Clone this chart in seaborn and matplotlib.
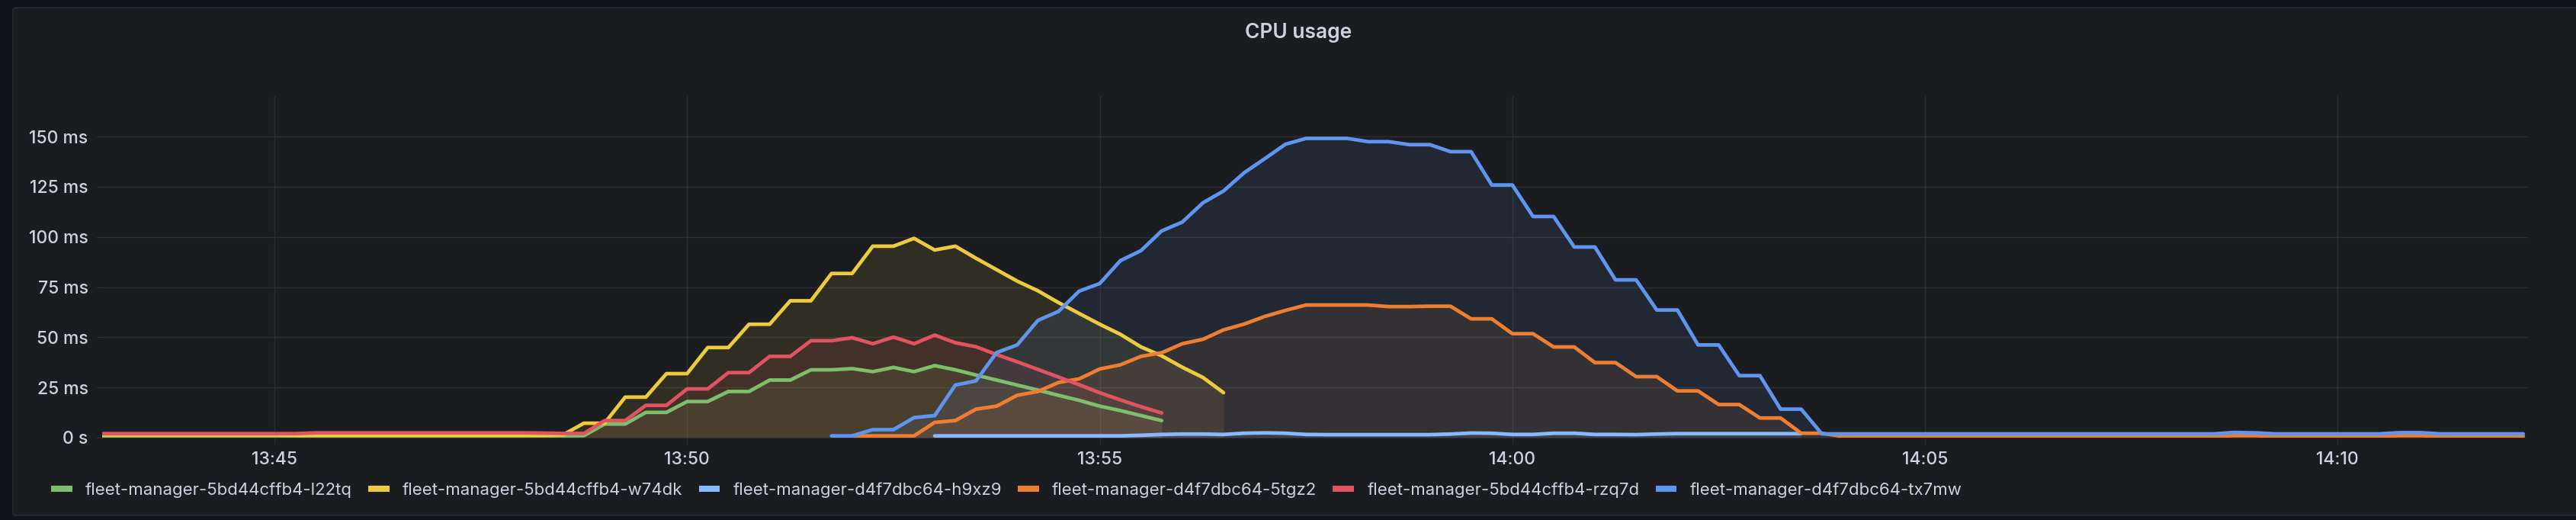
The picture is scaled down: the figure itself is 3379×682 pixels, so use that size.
import pandas as pd
import matplotlib.pyplot as plt
import matplotlib.dates as mdates
from matplotlib.lines import Line2D
from matplotlib.patches import FancyBboxPatch
from matplotlib.transforms import IdentityTransform
import seaborn as sns

# pods, in legend / draw order
pods = ['fleet-manager-5bd44cffb4-l22tq', 'fleet-manager-5bd44cffb4-w74dk',
        'fleet-manager-d4f7dbc64-h9xz9', 'fleet-manager-d4f7dbc64-5tgz2',
        'fleet-manager-5bd44cffb4-rzq7d', 'fleet-manager-d4f7dbc64-tx7mw']
colors = ['#7EBF6B', '#EDCB3F', '#8AB8FF', '#EE7F32', '#E25361', '#5F95EE']

# first sample time of each pod, samples every 15s
day = '2023-06-01'
first_sample = ['13:42:45', '13:42:45', '13:53:00', '13:52:00', '13:42:45', '13:51:45']

# CPU usage in ms
l22tq = [0.9, 0.9, 0.9, 0.9, 0.9, 0.9, 0.9, 0.9, 0.9, 0.9,
         0.9, 0.9, 0.9, 0.9, 0.9, 0.9, 0.9, 0.9, 0.9, 0.9,
         0.9, 0.9, 0.9, 0.9, 1.0, 6.8, 6.8, 12.6, 12.6, 18.0,
         18.0, 23.0, 23.0, 28.7, 28.7, 33.8, 33.8, 34.4, 32.9, 35.0,
         32.9, 35.9, 33.8, 31.2, 28.7, 26.2, 23.7, 21.1, 18.6, 15.7,
         13.5, 11.0, 8.5]
w74dk = [1.4, 1.4, 1.4, 1.4, 1.4, 1.4, 1.4, 1.4, 1.4, 1.4,
         1.2, 1.2, 1.2, 1.2, 1.2, 1.2, 1.2, 1.2, 1.2, 1.2,
         1.2, 1.2, 1.2, 1.5, 7.2, 7.2, 20.2, 20.2, 31.9, 31.9,
         44.9, 44.9, 56.5, 56.5, 68.2, 68.2, 81.8, 81.8, 95.4, 95.4,
         99.3, 93.5, 95.4, 89.4, 83.7, 78.0, 73.2, 67.3, 61.9, 56.5,
         51.5, 45.2, 40.8, 35.1, 30.0, 22.4]
h9xz9 = [0.9, 0.9, 0.9, 0.9, 0.9, 0.9, 0.9, 0.9, 0.9, 0.9,
         1.2, 1.6, 1.8, 1.8, 1.6, 2.2, 2.4, 2.2, 1.6, 1.5,
         1.5, 1.5, 1.5, 1.5, 1.5, 1.8, 2.3, 2.2, 1.6, 1.6,
         2.2, 2.2, 1.6, 1.6, 1.5, 1.8, 2.0, 2.0, 2.0, 2.0,
         2.0, 2.0, 2.0]
tgz2 = [0.9, 0.9, 0.9, 0.9, 7.6, 8.5, 14.2, 15.7, 21.1, 23.0,
        27.5, 29.3, 34.2, 36.3, 40.5, 42.3, 46.8, 49.0, 53.7, 56.6,
        60.4, 63.4, 66.1, 66.1, 66.1, 66.1, 65.3, 65.3, 65.5, 65.5,
        59.2, 59.2, 51.8, 51.8, 45.2, 45.2, 37.4, 37.4, 30.4, 30.4,
        23.3, 23.3, 16.5, 16.5, 9.8, 9.8, 2.2, 2.2, 0.6, 0.6,
        0.6, 0.6, 0.6, 0.6, 0.6, 0.6, 0.6, 0.6, 0.6, 0.6,
        0.6, 0.6, 0.6, 0.6, 0.6, 0.6, 0.6, 1.0, 1.0, 0.6,
        0.6, 0.6, 0.6, 0.6, 0.6, 1.0, 1.0, 0.6, 0.6, 0.6,
        0.6, 0.6]
rzq7d = [2.0, 2.0, 2.0, 2.0, 2.0, 2.0, 2.0, 2.0, 2.0, 2.0,
         2.0, 2.4, 2.4, 2.4, 2.4, 2.4, 2.4, 2.4, 2.4, 2.4,
         2.4, 2.4, 2.3, 2.1, 2.1, 8.5, 8.5, 16.1, 16.1, 24.3,
         24.3, 32.4, 32.4, 40.5, 40.5, 48.3, 48.3, 49.8, 46.8, 50.1,
         46.8, 51.1, 47.3, 45.3, 41.4, 37.8, 34.0, 30.2, 26.4, 22.4,
         18.8, 15.4, 12.3]
tx7mw = [0.9, 0.9, 4.0, 4.0, 10.0, 11.0, 26.2, 28.3, 42.4, 46.2,
         58.4, 62.9, 73.0, 76.8, 88.2, 93.2, 103.0, 107.4, 117.0, 122.9,
         132.0, 139.0, 146.2, 149.1, 149.1, 149.1, 147.5, 147.5, 146.0, 146.0,
         142.5, 142.5, 125.9, 125.9, 110.2, 110.2, 95.0, 95.0, 78.6, 78.6,
         63.6, 63.6, 46.2, 46.2, 30.9, 30.9, 14.2, 14.2, 1.9, 1.9,
         1.9, 1.9, 1.9, 1.9, 1.9, 1.9, 1.9, 1.9, 1.9, 1.9,
         1.9, 1.9, 1.9, 1.9, 1.9, 1.9, 1.9, 1.9, 2.6, 2.4,
         1.9, 1.9, 1.9, 1.9, 1.9, 1.9, 2.5, 2.5, 1.9, 1.9,
         1.9, 1.9, 1.9]
series = [l22tq, w74dk, h9xz9, tgz2, rzq7d, tx7mw]

y_ticks = [0, 25, 50, 75, 100, 125, 150]
y_labels = ['0 s', '25 ms', '50 ms', '75 ms', '100 ms', '125 ms', '150 ms']

# long-form table for seaborn
frames = []
for pod, start, vals in zip(pods, first_sample, series):
    t = pd.date_range(f'{day} {start}', periods=len(vals), freq='15s')
    frames.append(pd.DataFrame({'time': t, 'cpu': vals, 'pod': pod}))
df = pd.concat(frames, ignore_index=True)

sns.set_theme(style='dark')
plt.rcParams['font.family'] = ['Inter', 'DejaVu Sans']

W, H = 3380, 682
bg, panel_bg, grid_c, text_c = '#111217', '#1b1c20', '#2c2e33', '#d0d0de'
fig = plt.figure(figsize=(W / 100, H / 100), dpi=100, facecolor=bg)

# grafana panel box, behind the axes
fig.patches.append(FancyBboxPatch((17, 6), 3400, 666, boxstyle='round,pad=0,rounding_size=4',
                                  transform=IdentityTransform(), facecolor=panel_bg,
                                  edgecolor='#2a2b30', linewidth=1.2, zorder=-10))

ax = fig.add_axes([134 / W, (H - 574) / H, (3316 - 134) / W, (574 - 126) / H])
ax.set_facecolor('none')
ax.set_zorder(1)

sns.lineplot(data=df, x='time', y='cpu', hue='pod', hue_order=pods, palette=colors,
             linewidth=3.4, legend=False, estimator=None, sort=False, ax=ax)
for pod, c in zip(pods, colors):
    sub = df[df['pod'] == pod]
    ax.fill_between(sub['time'], sub['cpu'], 0, color=c, alpha=0.1, linewidth=0)

ax.set_xlim(pd.Timestamp(f'{day} 13:42:54.7'), pd.Timestamp(f'{day} 14:12:18.4'))
ax.set_ylim(0, 170.2)
ax.set_yticks(y_ticks)
ax.set_yticklabels(y_labels)
ax.xaxis.set_major_locator(mdates.MinuteLocator(byminute=range(0, 60, 5)))
ax.xaxis.set_major_formatter(mdates.DateFormatter('%H:%M'))
ax.set_xlabel('')
ax.set_ylabel('')
ax.grid(True, color=grid_c, linewidth=1)
ax.tick_params(length=5.8, width=0.72, color=grid_c, labelcolor=text_c,
               labelsize=16.5, pad=7.5, bottom=True, left=True)
for lab in ax.get_xticklabels() + ax.get_yticklabels():
    lab.set_fontweight('medium')
for s in ax.spines.values():
    s.set_visible(False)

fig.text(1703 / W, 1 - 43 / H, 'CPU usage', ha='center', va='center',
         fontsize=19, color=text_c, fontweight='semibold')

handles = [Line2D([0], [0], color=c, lw=5.8, solid_capstyle='butt') for c in colors]
fig.legend(handles, pods, loc='center left', bbox_to_anchor=(67 / W, 1 - 643 / H),
           ncol=6, frameon=False, fontsize=16, handlelength=1.25, handletextpad=0.77,
           columnspacing=0.95, borderpad=0, borderaxespad=0, labelcolor=text_c)

fig.savefig('out.png', dpi=100, facecolor=bg)
